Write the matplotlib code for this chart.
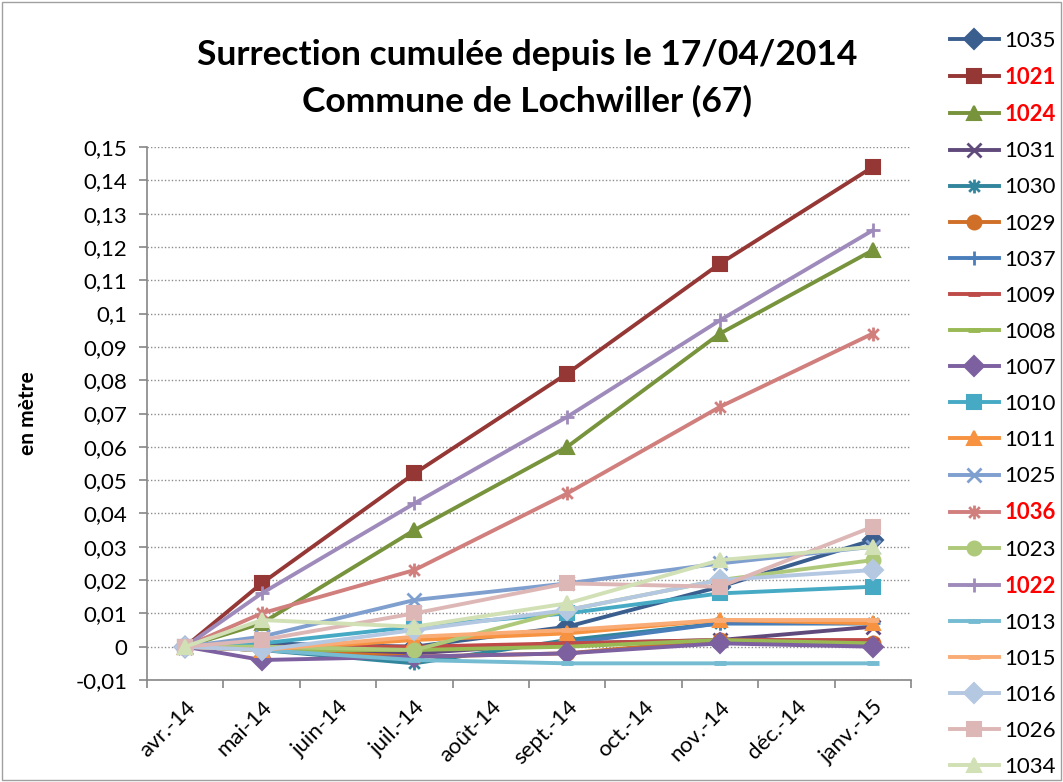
import matplotlib
matplotlib.use("Agg")
import matplotlib.pyplot as plt
from matplotlib.path import Path
from matplotlib.patches import Rectangle
from matplotlib.ticker import FuncFormatter, MultipleLocator

plt.rcParams['font.family'] = ['Lato', 'DejaVu Sans']

# months shown on the date axis, and where measurements were taken (month index)
months = ['avr.-14', 'mai-14', 'juin-14', 'juil.-14', 'août-14',
          'sept.-14', 'oct.-14', 'nov.-14', 'déc.-14', 'janv.-15']
meas_idx = [0, 1, 3, 5, 7, 9]

# cumulative uplift in metres, one list per benchmark
s1035 = [0, 0.001, 0.000, 0.006, 0.018, 0.032]
s1021 = [0, 0.019, 0.052, 0.082, 0.115, 0.144]
s1024 = [0, 0.007, 0.035, 0.060, 0.094, 0.119]
s1031 = [0, -0.001, -0.002, 0.001, 0.002, 0.006]
s1030 = [0, -0.001, -0.005, 0.002, 0.007, 0.007]
s1029 = [0, -0.001, -0.003, -0.002, 0.002, 0.001]
s1037 = [0, 0.000, -0.001, 0.001, 0.007, 0.007]
s1009 = [0, 0.000, 0.000, 0.001, 0.002, 0.002]
s1008 = [0, -0.001, -0.001, 0.000, 0.002, 0.001]
s1007 = [0, -0.004, -0.003, -0.002, 0.001, 0.000]
s1010 = [0, 0.001, 0.006, 0.010, 0.016, 0.018]
s1011 = [0, -0.001, 0.002, 0.004, 0.008, 0.007]
s1025 = [0, 0.003, 0.014, 0.019, 0.025, 0.030]
s1036 = [0, 0.010, 0.023, 0.046, 0.072, 0.094]
s1023 = [0, 0.000, -0.001, 0.011, 0.020, 0.026]
s1022 = [0, 0.016, 0.043, 0.069, 0.098, 0.125]
s1013 = [0, -0.001, -0.004, -0.005, -0.005, -0.005]
s1015 = [0, -0.001, 0.003, 0.005, 0.008, 0.008]
s1016 = [0, -0.001, 0.005, 0.011, 0.020, 0.023]
s1026 = [0, 0.002, 0.010, 0.019, 0.018, 0.036]
s1034 = [0, 0.008, 0.006, 0.013, 0.026, 0.030]

names = ['1035', '1021', '1024', '1031', '1030', '1029', '1037', '1009', '1008',
         '1007', '1010', '1011', '1025', '1036', '1023', '1022', '1013', '1015',
         '1016', '1026', '1034']
values = [s1035, s1021, s1024, s1031, s1030, s1029, s1037, s1009, s1008,
          s1007, s1010, s1011, s1025, s1036, s1023, s1022, s1013, s1015,
          s1016, s1026, s1034]
highlight = ['1021', '1024', '1036', '1022']

# excel-like star marker (x with a vertical bar)
star = Path([(-1, -1), (1, 1), (-1, 1), (1, -1), (0, -1.3), (0, 1.3)],
            [Path.MOVETO, Path.LINETO, Path.MOVETO, Path.LINETO, Path.MOVETO, Path.LINETO])

colors = ['#3A5F8F', '#953735', '#77933C', '#604A7B', '#31859C', '#D07028',
          '#4A7EBB', '#BE4B48', '#98B954', '#7D60A0', '#46AAC5', '#F69240',
          '#7F9FCF', '#D07F7D', '#AFC97A', '#9F8BBB', '#75BBD2', '#F9AC76',
          '#B4C8E2', '#DDB7B6', '#D1E0B5']
markers = ['D', 's', '^', 'x', star, 'o', '+', '_', '_', 'D', 's', '^',
           'x', star, 'o', '+', '_', '_', 'D', 's', '^']

fig = plt.figure(figsize=(10.63, 7.82), dpi=100)
ax = fig.add_axes([147 / 1063, 1 - 680 / 782, (911 - 147) / 1063, (680 - 147) / 782])

for name, vals, c, m in zip(names, values, colors, markers):
    ms = 10
    mew = 1.5
    if m in ('x', '+') or m is star:
        ms = 10
        mew = 2
    if m == '_':
        ms = 9
        mew = 3.5
    ax.plot(meas_idx, vals, color=c, lw=2.8, marker=m, ms=ms, mew=mew,
            mec=c, mfc=c, label=name, solid_joinstyle='round')

ax.set_xlim(-0.5, 9.5)
ax.set_ylim(-0.01, 0.15)
ax.yaxis.set_major_locator(MultipleLocator(0.01))
ax.yaxis.set_major_formatter(FuncFormatter(lambda v, p: ('%g' % round(v, 3)).replace('.', ',')))
ax.grid(axis='y', color='#8C8C8C', ls=(0, (1, 1.5)), lw=1)
ax.set_axisbelow(True)

# tick marks on month boundaries, labels centred in each month
ax.set_xticks([i - 0.5 for i in range(11)])
ax.set_xticklabels([])
ax.set_xticks(range(10), minor=True)
ax.set_xticklabels(months, minor=True, rotation=45, ha='right', va='top',
                   rotation_mode='anchor', fontsize=16)
ax.tick_params(axis='x', which='minor', length=0, pad=12)
ax.tick_params(axis='x', which='major', length=6, color='#868686', width=1.2)
ax.tick_params(axis='y', length=6, color='#868686', width=1.2, labelsize=16, pad=8)

for sp in ('top', 'right'):
    ax.spines[sp].set_visible(False)
for sp in ('left', 'bottom'):
    ax.spines[sp].set_color('#868686')
    ax.spines[sp].set_linewidth(1.2)

ax.set_ylabel('en mètre', fontsize=15, fontweight='bold')
ax.yaxis.set_label_coords((38 - 147) / 764, 0.5)

fig.text(527 / 1063, 1 - 55 / 782, 'Surrection cumulée depuis le 17/04/2014',
         ha='center', va='center', fontsize=25.5, fontweight='bold')
fig.text(527 / 1063, 1 - 101 / 782, 'Commune de Lochwiller (67)',
         ha='center', va='center', fontsize=25.5, fontweight='bold')

leg = fig.legend(loc='upper left', bbox_to_anchor=(950 / 1063, 1 - 31 / 782),
                 frameon=False, fontsize=16, handlelength=2.2, handletextpad=0.25,
                 labelspacing=0.725, borderaxespad=0, borderpad=0)
for t in leg.get_texts():
    if t.get_text() in highlight:
        t.set_color('#FF0000')
        t.set_fontweight('bold')

fig.patches.append(Rectangle((0.002, 0.002), 0.996, 0.996, transform=fig.transFigure,
                             fill=False, edgecolor='#A0A0A0', lw=1))

fig.savefig('out.png', dpi=100)
